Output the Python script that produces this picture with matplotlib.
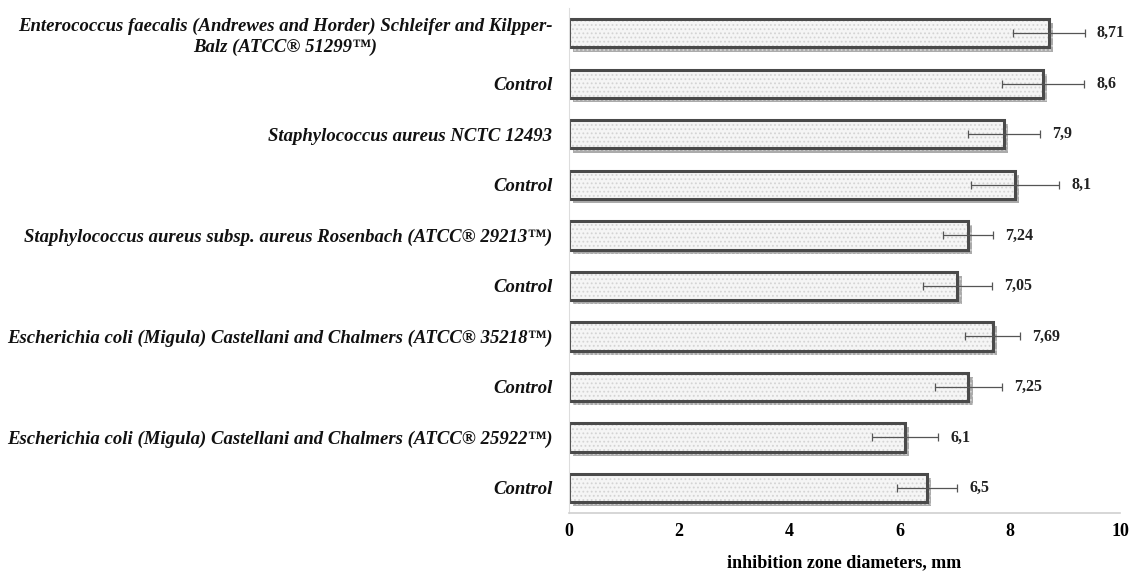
import matplotlib
matplotlib.use("Agg")
import matplotlib.pyplot as plt
import matplotlib.patheffects as pe
import numpy as np

categories = [
    "Enterococcus faecalis (Andrewes and Horder) Schleifer and Kilpper-\nBalz (ATCC® 51299™)",
    "Control",
    "Staphylococcus aureus NCTC 12493",
    "Control",
    "Staphylococcus aureus subsp. aureus Rosenbach (ATCC® 29213™)",
    "Control",
    "Escherichia coli (Migula) Castellani and Chalmers (ATCC® 35218™)",
    "Control",
    "Escherichia coli (Migula) Castellani and Chalmers (ATCC® 25922™)",
    "Control",
]
values = [8.71, 8.6, 7.9, 8.1, 7.24, 7.05, 7.69, 7.25, 6.1, 6.5]
errors = [0.65, 0.75, 0.65, 0.8, 0.45, 0.63, 0.5, 0.6, 0.6, 0.55]
value_labels = ["8,71", "8,6", "7,9", "8,1", "7,24", "7,05", "7,69", "7,25", "6,1", "6,5"]
xticks = [0, 2, 4, 6, 8, 10]

serif = ["Liberation Serif", "DejaVu Serif"]
plt.rcParams['hatch.linewidth'] = 0.8

fig = plt.figure(figsize=(11.29, 5.76), dpi=100)
ax = fig.add_axes([0.504, 0.109, 0.488, 0.877])

y = np.arange(len(categories))
fills = ax.barh(y, values, height=0.56, color="#f5f5f5", edgecolor="#d4d4d4",
                linewidth=0, hatch="....", zorder=2)
for b in fills:
    b.set_path_effects([pe.SimplePatchShadow(offset=(3, -3), shadow_rgbFace="#666666", alpha=0.55),
                        pe.Normal()])
ax.barh(y, values, height=0.56, fill=False, edgecolor="#4a4a4a", linewidth=2.2, zorder=2.5)

ax.errorbar(values, y, xerr=errors, fmt="none", ecolor="#555555", elinewidth=0.9,
            capsize=3, capthick=0.9, zorder=3)

for yi, v, e, lab in zip(y, values, errors, value_labels):
    ax.text(v + e + 0.22, yi, lab, va="center", ha="left", fontsize=11.5,
            fontweight="bold", family=serif, color="#222222")

ax.set_ylim(len(categories) - 0.5, -0.5)
ax.set_xlim(0, 10)
ax.set_yticks(y)
ax.set_yticklabels(categories, fontsize=13.5, fontweight="bold", fontstyle="italic",
                   family=serif, color="#111111", ha="right", multialignment="center",
                   linespacing=1.25)
ax.set_xticks(xticks)
ax.set_xticklabels([str(t) for t in xticks], fontsize=13, fontweight="bold", family=serif)
ax.tick_params(axis="both", length=0)
ax.tick_params(axis="x", pad=7)
ax.tick_params(axis="y", pad=12)

for s in ["top", "right"]:
    ax.spines[s].set_visible(False)
ax.spines["left"].set_color("#dddddd")
ax.spines["bottom"].set_color("#d0d0d0")
ax.spines["bottom"].set_linewidth(1.2)

ax.set_xlabel("inhibition zone diameters, mm", fontsize=13, fontweight="bold",
              family=serif, labelpad=10)

fig.savefig("out.png", dpi=100)
